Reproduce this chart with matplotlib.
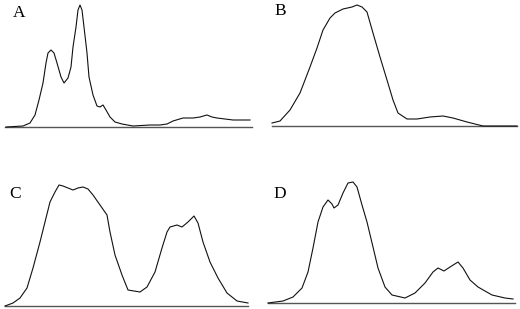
import matplotlib
matplotlib.use("Agg")
import matplotlib.pyplot as plt

W, H = 520, 309

# Panel A (channel, intensity)
a_x = [6, 23, 30, 35, 39, 43, 46, 48, 51, 54, 57, 61, 64, 68, 71, 73, 76, 78, 80, 82, 84, 87, 89, 93, 97, 100, 103, 106, 110, 115, 122,
       133, 150, 160, 167, 173, 183, 193, 200, 207, 212, 217, 233, 250]
a_y = [0, 1, 4, 12, 27, 44, 64, 74, 77, 74, 64, 50, 44, 49, 60, 80, 100, 117, 122, 117, 100, 74, 50, 32, 21, 20, 22, 17, 10, 5, 3,
       1, 2, 2, 3, 6, 9, 9, 10, 12, 10, 9, 7, 7]
# Panel B
b_x = [12, 20, 30, 40, 50, 57, 63, 70, 75, 83, 92, 97, 102, 107, 113, 120, 127, 133, 138, 147, 157, 170, 183, 193, 207, 223, 257]
b_y = [3, 5, 16, 33, 59, 78, 96, 108, 113, 117, 119, 121, 119, 114, 93, 69, 46, 26, 13, 7, 7, 9, 10, 8, 4, 0, 0]
# Panel C
c_x = [5, 13, 20, 27, 33, 40, 45, 50, 55, 59, 63, 68, 73, 78, 83, 88, 93, 100, 107, 110, 115, 122, 128,
       140, 147, 155, 162, 167, 170, 177, 182, 188, 194, 198, 203, 210, 218, 227, 237, 248]
c_y = [0, 3, 8, 18, 38, 64, 84, 104, 114, 121, 120, 118, 116, 118, 119, 117, 111, 101, 91, 74, 51, 31, 16,
       14, 19, 34, 58, 74, 79, 81, 79, 84, 90, 83, 64, 44, 28, 13, 5, 3]
# Panel D
d_x = [8, 23, 33, 42, 48, 53, 58, 63, 68, 72, 74, 78, 83, 88, 93, 97, 102, 107, 113, 118, 125, 132,
       145, 155, 165, 173, 178, 184, 190, 198, 203, 210, 218, 232, 245, 253]
d_y = [0, 2, 6, 15, 31, 55, 81, 96, 103, 99, 95, 98, 110, 120, 121, 116, 98, 81, 56, 35, 16, 8,
       5, 10, 20, 31, 35, 32, 36, 41, 35, 23, 16, 8, 5, 4]

labels = ["A", "B", "C", "D"]
xs = [a_x, b_x, c_x, d_x]
ys = [a_y, b_y, c_y, d_y]
base_ranges = [(5, 252), (12, 257), (5, 248), (8, 255)]

# layout (pixels): panel left, baseline row
panel_left = [0, 260, 0, 260]
panel_base = [127, 126, 306, 303]
label_pos = [(13, 17), (14, 15), (9, 198), (13, 198)]

fig = plt.figure(figsize=(W / 100, H / 100), dpi=100)
fig.patch.set_facecolor("white")

for i in range(4):
    x0 = panel_left[i]
    base = panel_base[i]
    top = base - 125
    bottom = base + 3
    ax = fig.add_axes([x0 / W, 1 - bottom / H, 260 / W, (bottom - top) / H])
    ax.set_xlim(0, 260)
    ax.set_ylim(-3, 125)
    ax.axis("off")
    ax.plot(base_ranges[i], [0, 0], color="#555555", lw=1.0, clip_on=False)
    ax.plot(xs[i], ys[i], color="#111111", lw=0.8, clip_on=False)
    lx, ly = label_pos[i]
    fig.text((x0 + lx) / W, 1 - ly / H, labels[i], family="Liberation Serif",
             fontsize=12.5, va="baseline", ha="left")

fig.savefig("out.png", dpi=100, facecolor="white")
